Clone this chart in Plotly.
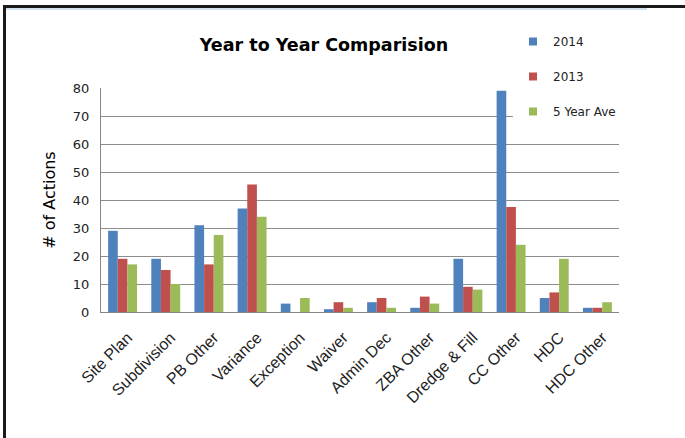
import plotly.graph_objects as go

categories = ["Site Plan", "Subdivision", "PB Other", "Variance", "Exception", "Waiver",
              "Admin Dec", "ZBA Other", "Dredge & Fill", "CC Other", "HDC", "HDC Other"]
series_names = ["2014", "2013", "5 Year Ave"]
vals_2014 = [29, 19, 31, 37, 3, 1, 3.5, 1.5, 19, 79, 5, 1.5]
vals_2013 = [19, 15, 17, 45.5, 0, 3.5, 5, 5.5, 9, 37.5, 7, 1.5]
vals_5yr = [17, 10, 27.5, 34, 5, 1.5, 1.5, 3, 8, 24, 19, 3.5]
colors = ["#4F81BD", "#C0504D", "#9BBB59"]
y_ticks = [0, 10, 20, 30, 40, 50, 60, 70, 80]

W, H = 685, 438
L, R, T, B = 101, 66, 88, 126
pw, ph = W - L - R, H - T - B

fig = go.Figure()
for name, vals, col in zip(series_names, [vals_2014, vals_2013, vals_5yr], colors):
    fig.add_trace(go.Bar(x=categories, y=vals, name=name, marker=dict(color=col, line=dict(width=0)),
                         showlegend=False))
for i, (name, col) in enumerate(zip(series_names, colors)):
    fig.add_trace(go.Scatter(x=[None], y=[None], mode="markers", name=name,
                             marker=dict(symbol="square", size=8, color=col),
                             legendgroup=f"g{i}"))

def px_x(px):
    return (px - L) / pw

def px_y(py):
    return (H - B - py) / ph

fig.update_layout(
    width=W, height=H,
    margin=dict(l=L, r=R, t=T, b=B, autoexpand=False),
    paper_bgcolor="white", plot_bgcolor="white",
    barmode="group", bargap=0.33, bargroupgap=0,
    title=dict(text="<b>Year to Year Comparision</b>", x=324 / W, xref="container", xanchor="center",
               y=1 - 45 / H, yref="container", yanchor="middle",
               font=dict(family="DejaVu Sans", size=17.5, color="black")),
    xaxis=dict(type="category", showline=True, linecolor="#868686", linewidth=1,
               showgrid=False, tickangle=-45, ticks="", ticklabelstandoff=9, ticklabelshift=5,
               tickfont=dict(family="Liberation Sans", size=16, color="#222222")),
    yaxis=dict(range=[0, 80], tickvals=y_ticks, showline=True, linecolor="#868686", linewidth=1,
               showgrid=True, gridcolor="#8C8C8C", gridwidth=1, zeroline=False,
               ticks="outside", ticklen=8, tickcolor="rgba(0,0,0,0)",
               tickfont=dict(family="DejaVu Sans", size=13, color="#222222"),
               title=dict(text="# of Actions", standoff=13,
                          font=dict(family="DejaVu Sans", size=16, color="black"))),
    legend=dict(x=px_x(513), y=px_y(27), xanchor="left", yanchor="top",
                bgcolor="white", tracegroupgap=16,
                font=dict(family="DejaVu Sans", size=12, color="#222222"),
                itemsizing="trace"),
    shapes=[
        dict(type="line", xref="paper", yref="paper", x0=px_x(4.5), x1=px_x(4.5), y0=px_y(6), y1=px_y(440),
             line=dict(color="#1a1a1a", width=3)),
        dict(type="line", xref="paper", yref="paper", x0=px_x(3), x1=px_x(690), y0=px_y(6.5), y1=px_y(6.5),
             line=dict(color="#1a1a1a", width=3)),
        dict(type="line", xref="paper", yref="paper", x0=px_x(6), x1=px_x(647), y0=px_y(9), y1=px_y(9),
             line=dict(color="#A9BFDD", width=1)),
    ],
)

fig.write_html("out.html")
